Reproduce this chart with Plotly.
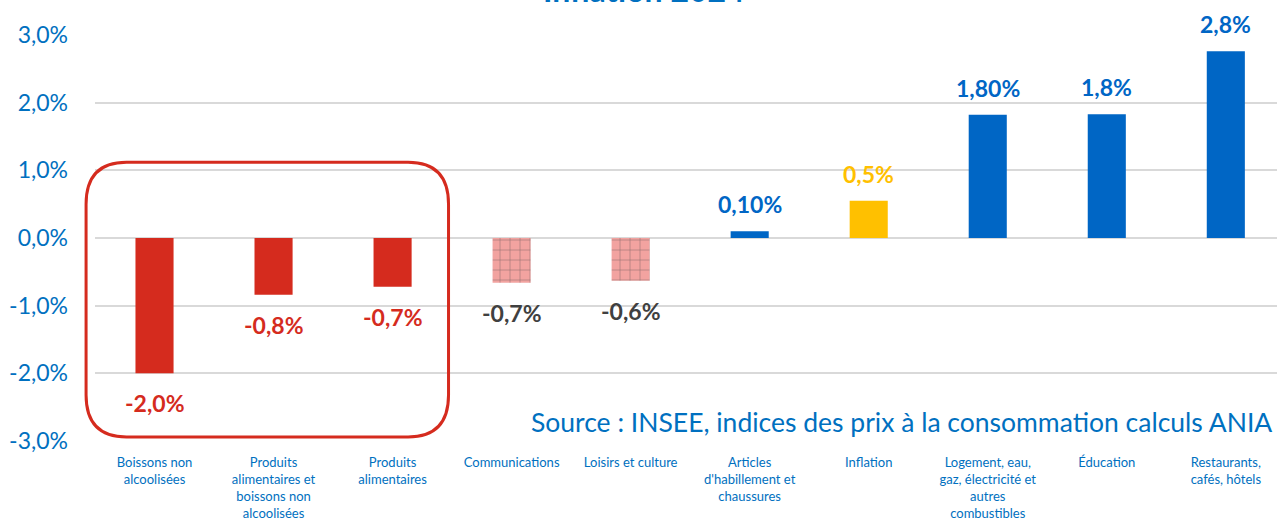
import plotly.graph_objects as go

categories = [
    "Boissons non<br>alcoolisées",
    "Produits<br>alimentaires et<br>boissons non<br>alcoolisées",
    "Produits<br>alimentaires",
    "Communications",
    "Loisirs et culture",
    "Articles<br>d'habillement et<br>chaussures",
    "Inflation",
    "Logement, eau,<br>gaz, électricité et<br>autres<br>combustibles",
    "Éducation",
    "Restaurants,<br>cafés, hôtels",
]
values = [-2.0, -0.84, -0.72, -0.66, -0.63, 0.10, 0.55, 1.82, 1.83, 2.76]
labels = ["-2,0%", "-0,8%", "-0,7%", "-0,7%", "-0,6%", "0,10%", "0,5%", "1,80%", "1,8%", "2,8%"]
kinds = ["red", "red", "red", "hatch", "hatch", "blue", "yellow", "blue", "blue", "blue"]

y_ticks = [-3, -2, -1, 0, 1, 2, 3]
y_ticktext = ["-3,0%", "-2,0%", "-1,0%", "0,0%", "1,0%", "2,0%", "3,0%"]

RED = "#D52B1E"
BLUE = "#0066C5"
YELLOW = "#FFC000"
TXT_BLUE = "#0070C0"
DARK = "#404040"
FONT = "Lato"

bar_color = {"red": RED, "hatch": "#F2A3A0", "blue": BLUE, "yellow": YELLOW}
label_color = {"red": RED, "hatch": DARK, "blue": BLUE, "yellow": YELLOW}

X_RANGE = [-0.5, 9.43]
Y_RANGE = [-3, 3]

x_idx = list(range(len(categories)))
fig = go.Figure()
fig.add_trace(go.Bar(
    x=x_idx, y=values, width=0.32,
    marker=dict(
        color=[bar_color[k] for k in kinds],
        line=dict(width=0),
        pattern=dict(
            shape=["+" if k == "hatch" else "" for k in kinds],
            fgcolor=RED, bgcolor="#F2A3A0", size=10, solidity=0.12,
        ),
    ),
    hoverinfo="skip",
))

for i, (v, t, k) in enumerate(zip(values, labels, kinds)):
    fig.add_annotation(
        x=i, y=v, xref="x", yref="y", text="<b>%s</b>" % t, showarrow=False,
        font=dict(family=FONT, size=23, color=label_color[k]),
        yshift=-30 if v < 0 else 27,
    )

# Red rounded frame around the three food categories (paper coords, not clipped)
def px(c):
    return (c - X_RANGE[0]) / (X_RANGE[1] - X_RANGE[0])

def py(v):
    return (v - Y_RANGE[0]) / (Y_RANGE[1] - Y_RANGE[0])

x0, x1 = px(-0.575), px(2.47)
y0, y1 = py(-2.94), py(1.12)
rx, ry = 0.34 / (X_RANGE[1] - X_RANGE[0]), 0.62 / (Y_RANGE[1] - Y_RANGE[0])
path = (f"M {x0+rx},{y1} L {x1-rx},{y1} Q {x1},{y1} {x1},{y1-ry} "
        f"L {x1},{y0+ry} Q {x1},{y0} {x1-rx},{y0} L {x0+rx},{y0} "
        f"Q {x0},{y0} {x0},{y0+ry} L {x0},{y1-ry} Q {x0},{y1} {x0+rx},{y1} Z")
fig.add_shape(type="path", path=path, xref="paper", yref="paper",
              line=dict(color=RED, width=3), layer="above")

fig.add_annotation(
    x=0.9975, y=-2.72, xref="paper", yref="y", xanchor="right",
    text="Source : INSEE, indices des prix à la consommation calculs ANIA",
    showarrow=False, font=dict(family=FONT, size=26.5, color=TXT_BLUE),
)

fig.add_annotation(
    x=(644 - 95) / 1182, y=1.0, xref="paper", yref="paper", yanchor="bottom", yshift=24,
    text="<b>Inflation 2024</b>", showarrow=False,
    font=dict(family=FONT, size=32, color=TXT_BLUE),
)

fig.update_layout(
    width=1277, height=527,
    margin=dict(l=95, r=0, t=35, b=86),
    plot_bgcolor="white", paper_bgcolor="white",
    showlegend=False,
    font=dict(family=FONT),
)
fig.update_xaxes(
    tickmode="array", tickvals=x_idx, ticktext=categories,
    range=X_RANGE, showgrid=False, zeroline=False, showline=False,
    ticks="", tickangle=0,
    tickfont=dict(family=FONT, size=13, color=TXT_BLUE),
    ticklabelstandoff=12,
)
fig.update_yaxes(
    range=Y_RANGE, tickmode="array", tickvals=y_ticks, ticktext=y_ticktext,
    showgrid=True, gridcolor="#D9D9D9", gridwidth=2,
    zeroline=True, zerolinecolor="#D9D9D9", zerolinewidth=2,
    showline=False, ticks="",
    tickfont=dict(family=FONT, size=23, color=TXT_BLUE),
    ticklabelstandoff=26,
)

fig.write_html("out.html", config={"displayModeBar": False},
               post_script="document.body.style.margin='0';")
